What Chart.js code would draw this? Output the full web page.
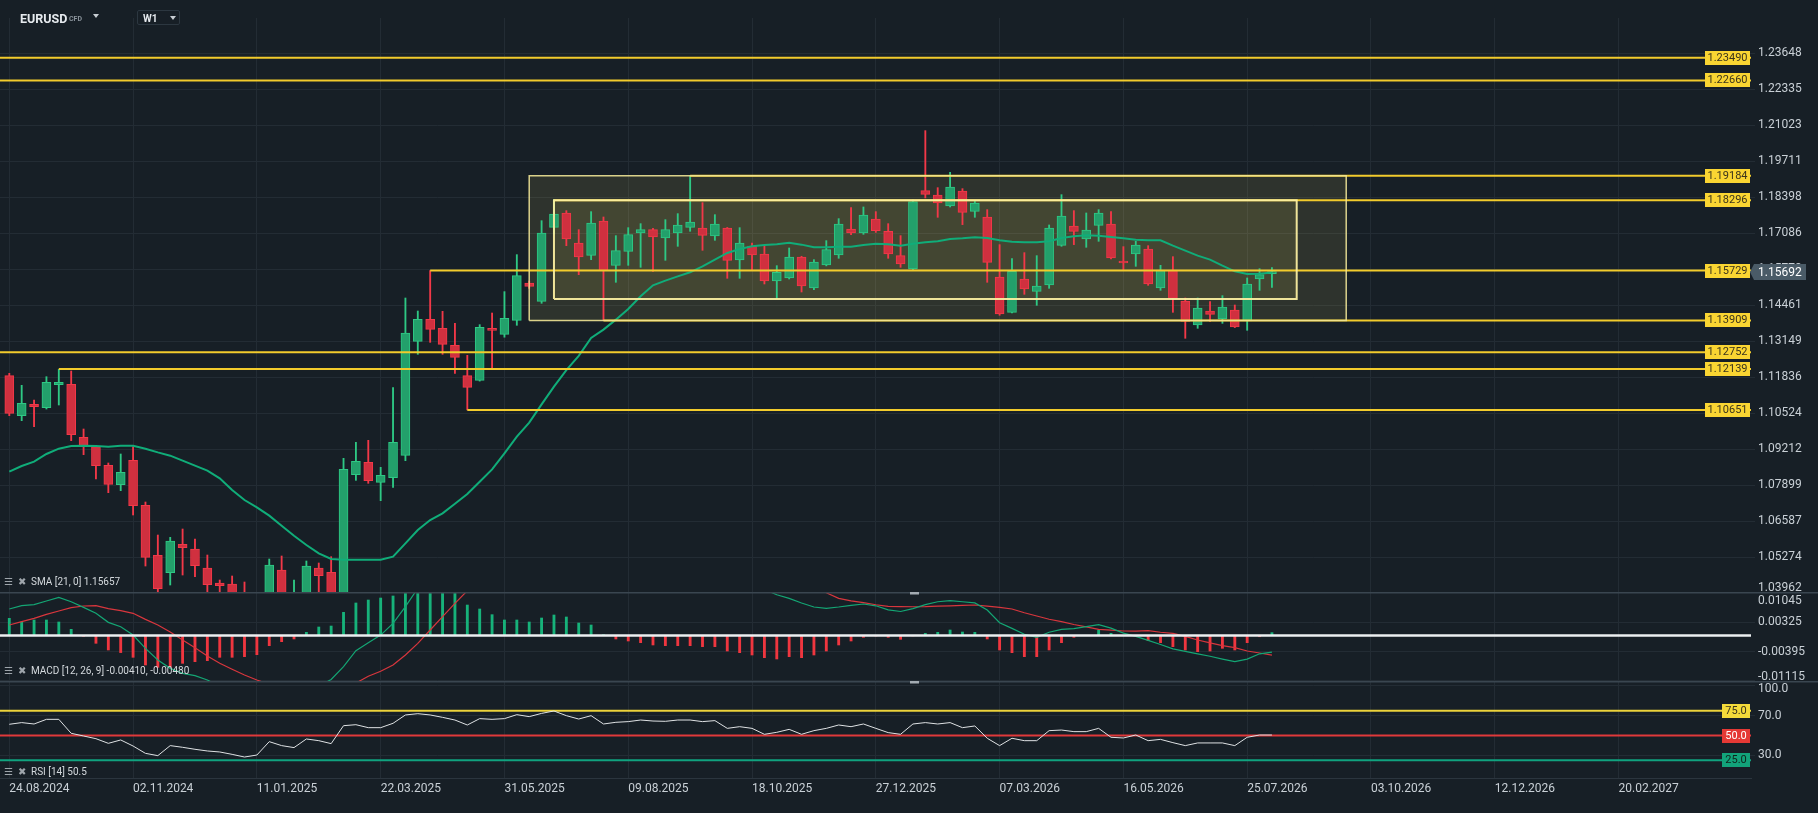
<!DOCTYPE html>
<html>
<head>
<meta charset="utf-8">
<script src="https://cdn.jsdelivr.net/npm/chart.js@4.4.1/dist/chart.umd.min.js"></script>
<style>
  html, body { margin: 0; padding: 0; background: #171f26; overflow: hidden; }
  #wrap { position: relative; width: 1818px; height: 813px; font-family: Roboto, sans-serif; }
  canvas { position: absolute; left: 0; }
  #hdr { position: absolute; left: 0; top: 0; width: 1818px; height: 18px; background: #171f26; }
  .sym { position: absolute; left: 20px; top: 11px; font: bold 12.5px/15px Roboto; color: #e6eaee; }
  .cfd { position: absolute; left: 69px; top: 15px; font: bold 7px/9px Roboto; color: #8b949c; }
  .caret { position: absolute; width: 0; height: 0; border-left: 3.5px solid transparent; border-right: 3.5px solid transparent; border-top: 4px solid #c8ced3; }
  .tf { position: absolute; left: 137px; top: 10px; width: 43px; height: 15px; border: 1px solid #2c3740; border-radius: 2px; box-sizing: border-box; }
  .tf span { position: absolute; left: 5px; top: 1px; font: bold 10px/13px Roboto; color: #e6eaee; }
  .leg { position: absolute; left: 31px; font: 10px/12px Roboto; color: #d4d9dd; white-space: nowrap; }
  .ico { position: absolute; font-family: "DejaVu Sans"; font-weight: bold; font-size: 10px; line-height: 12px; color: #9ea5ab; }
</style>
</head>
<body>
<div id="wrap">
  <canvas id="mainChart" width="1818" height="592" style="top:0px"></canvas>
  <canvas id="macdChart" width="1818" height="89" style="top:592px"></canvas>
  <canvas id="rsiChart" width="1818" height="132" style="top:681px"></canvas>
  <div id="hdr">
    <div class="sym">EURUSD</div>
    <div class="cfd">CFD</div>
    <div class="caret" style="left:93px; top:14px"></div>
  </div>
  <div class="tf"><span>W1</span><div class="caret" style="left:32px; top:5px"></div></div>
  <div class="ico" style="left:4px; top:576px">☰</div><div class="ico" style="left:18px; top:576px">✖</div>
  <div class="leg" style="top:576px">SMA [21, 0] 1.15657</div>
  <div class="ico" style="left:4px; top:665px">☰</div><div class="ico" style="left:18px; top:665px">✖</div>
  <div class="leg" style="top:665px">MACD [12, 26, 9] -0.00410, -0.00480</div>
  <div class="ico" style="left:4px; top:766px">☰</div><div class="ico" style="left:18px; top:766px">✖</div>
  <div class="leg" style="top:766px">RSI [14] 50.5</div>
</div>
<script>
// weekly candles, index 0 = week of 24.08.2024
var opens = [1.11898,1.10440,1.10853,1.10732,1.11570,1.11582,1.09650,1.09310,1.08630,1.07925,
  1.08812,1.07172,1.05349,1.04717,1.05750,1.05580,1.04887,1.04341,1.04304,1.03080,
  1.02440,1.02720,1.04815,1.02450,1.03290,1.04887,1.04729,1.03770,1.08289,1.08739,
  1.08010,1.08180,1.08994,1.13149,1.13951,1.13623,1.13004,1.11898,1.11728,1.13623,
  1.13405,1.13916,1.15277,1.14608,1.17306,1.17828,1.16734,1.16285,1.17536,1.15920,
  1.16431,1.17099,1.17221,1.16917,1.17099,1.17306,1.17281,1.16990,1.17281,1.16115,
  1.16625,1.16334,1.15349,1.15459,1.16224,1.15094,1.15933,1.16297,1.17245,1.17099,
  1.17609,1.17160,1.16273,1.15787,1.18642,1.18484,1.18083,1.18630,1.17889,1.17682,
  1.15495,1.14207,1.15422,1.14973,1.15204,1.16650,1.17354,1.16880,1.17379,1.17427,
  1.16079,1.16334,1.16516,1.15094,1.15750,1.14620,1.13746,1.14256,1.13964,1.14292,
  1.13891,1.15422,1.15617];
var highs = [1.11983,1.11546,1.11011,1.11861,1.12129,1.12068,1.09954,1.09346,1.08715,1.09043,
  1.09310,1.07293,1.06090,1.06005,1.06309,1.05944,1.05361,1.04450,1.04596,1.04377,
  1.03530,1.05215,1.05325,1.04450,1.05143,1.05070,1.05300,1.08885,1.09468,1.09541,
  1.08557,1.11461,1.14729,1.14255,1.15729,1.14243,1.13805,1.12639,1.13757,1.14182,
  1.14961,1.16309,1.15350,1.17548,1.18314,1.17913,1.17220,1.17877,1.17682,1.17002,
  1.17293,1.17439,1.17269,1.17585,1.17804,1.19184,1.18205,1.17767,1.17300,1.17293,
  1.16734,1.16637,1.15908,1.16552,1.16250,1.16127,1.16820,1.17622,1.18022,1.18047,
  1.17877,1.17439,1.17002,1.18314,1.20829,1.18751,1.19310,1.18715,1.18290,1.17950,
  1.16674,1.16164,1.16382,1.16273,1.17391,1.18496,1.17913,1.17828,1.17950,1.17877,
  1.16601,1.16795,1.16637,1.15920,1.16236,1.14730,1.14730,1.14596,1.14815,1.14474,
  1.15459,1.15799,1.15836];
var lows = [1.10440,1.10258,1.10039,1.10683,1.10829,1.09529,1.09019,1.08132,1.07633,1.07706,
  1.06820,1.04960,1.03330,1.04268,1.04632,1.04571,1.03430,1.03800,1.02260,1.02110,
  1.01780,1.02500,1.02100,1.01410,1.02850,1.04010,1.03600,1.03600,1.08083,1.07974,
  1.07342,1.07828,1.08800,1.12676,1.13113,1.12676,1.11983,1.10651,1.11700,1.12129,
  1.13300,1.13734,1.15080,1.14535,1.17063,1.16637,1.15580,1.16127,1.13909,1.15301,
  1.15920,1.15847,1.15702,1.16103,1.16613,1.17160,1.16467,1.16832,1.15447,1.15447,
  1.15763,1.15240,1.14705,1.15422,1.14948,1.15033,1.15900,1.16176,1.17038,1.17050,
  1.17120,1.16176,1.15847,1.15738,1.18375,1.17670,1.18047,1.17403,1.17670,1.15301,
  1.14100,1.14183,1.14863,1.14462,1.15082,1.16613,1.16674,1.16577,1.16795,1.16150,
  1.15763,1.15884,1.15191,1.15009,1.14207,1.13260,1.13624,1.13879,1.13806,1.13650,
  1.13551,1.15009,1.15119];
var closes = [1.10525,1.10889,1.10768,1.11655,1.11655,1.09747,1.09346,1.08618,1.07937,1.08374,
  1.07160,1.05276,1.04134,1.05871,1.05629,1.04972,1.04280,1.04244,1.03080,1.02440,
  1.02720,1.04997,1.02450,1.03290,1.04960,1.04608,1.03770,1.08484,1.08776,1.08071,
  1.08265,1.09468,1.13453,1.13951,1.13587,1.13040,1.12566,1.11473,1.13660,1.13550,
  1.13988,1.15544,1.15155,1.17099,1.17791,1.16880,1.16224,1.17464,1.15738,1.16455,
  1.17038,1.17221,1.16953,1.17221,1.17391,1.17500,1.17014,1.17427,1.16103,1.16734,
  1.16297,1.15349,1.15665,1.16224,1.15167,1.16042,1.16491,1.17427,1.17099,1.17755,
  1.17184,1.16334,1.15969,1.18241,1.18508,1.18193,1.18776,1.17852,1.18193,1.16030,
  1.14146,1.15702,1.15058,1.15167,1.17281,1.17719,1.17160,1.17208,1.17828,1.16188,
  1.16006,1.16662,1.15240,1.15750,1.14718,1.13879,1.14365,1.14134,1.14401,1.13673,
  1.15240,1.15580,1.15692];
var sma21 = [1.08399,1.08605,1.08763,1.09043,1.09237,1.09334,1.09346,1.09334,1.09310,1.09346,
  1.09346,1.09237,1.09103,1.08982,1.08800,1.08618,1.08436,1.08156,1.07731,1.07366,
  1.07099,1.06795,1.06431,1.06066,1.05726,1.05422,1.05215,1.05191,1.05191,1.05191,
  1.05191,1.05300,1.05786,1.06273,1.06637,1.06880,1.07232,1.07585,1.08034,1.08484,
  1.09067,1.09675,1.10185,1.10850,1.11500,1.12100,1.12620,1.13272,1.13576,1.13940,
  1.14329,1.14790,1.15191,1.15362,1.15519,1.15665,1.15884,1.16127,1.16370,1.16516,
  1.16613,1.16662,1.16686,1.16747,1.16674,1.16577,1.16577,1.16601,1.16601,1.16662,
  1.16710,1.16686,1.16637,1.16710,1.16759,1.16795,1.16880,1.16905,1.16941,1.16917,
  1.16832,1.16783,1.16759,1.16759,1.16795,1.16917,1.16977,1.17014,1.17002,1.16953,
  1.16905,1.16856,1.16832,1.16832,1.16637,1.16455,1.16273,1.16127,1.15908,1.15702,
  1.15605,1.15617,1.15657];
var macdLine = [0.00651,0.00733,0.00758,0.00848,0.00938,0.00831,0.00692,0.00545,0.00323,0.00217,
  0.00012,-0.00315,-0.00602,-0.00807,-0.00930,-0.00987,-0.01093,-0.0125,-0.0140,-0.0152,
  -0.0160,-0.0158,-0.0155,-0.0150,-0.0140,-0.0125,-0.0108,-0.00766,-0.00373,-0.00176,
  0.00010,0.00299,0.00708,0.0116,0.0154,0.0171,0.0189,0.0185,0.0190,0.0188,
  0.0184,0.0191,0.0192,0.0208,0.0221,0.0223,0.0212,0.0210,0.0187,0.0177,
  0.0173,0.0168,0.0162,0.0158,0.0156,0.0155,0.0152,0.0151,0.0139,0.0133,
  0.0125,0.0113,0.0100,0.00913,0.00800,0.00700,0.00667,0.00700,0.00740,0.00774,
  0.00730,0.00630,0.00590,0.00660,0.00760,0.00830,0.00856,0.00830,0.00800,0.00626,
  0.00315,0.00176,0.00030,-0.00045,0.00080,0.00151,0.00170,0.00220,0.00266,0.00180,
  0.00060,-0.00020,-0.00120,-0.00220,-0.00330,-0.00390,-0.00450,-0.00510,-0.00580,-0.00643,
  -0.00580,-0.00450,-0.00410];
var signalLine = [0.00258,0.00340,0.00422,0.00520,0.00602,0.00684,0.00725,0.00733,0.00659,0.00610,
  0.00545,0.00397,0.00258,0.00086,-0.00111,-0.00299,-0.00504,-0.00684,-0.00831,-0.00971,
  -0.01093,-0.0120,-0.0128,-0.0135,-0.0140,-0.0142,-0.0140,-0.0134,-0.0117,-0.0100,
  -0.0088,-0.00725,-0.00479,-0.00192,0.00135,0.00463,0.0079,0.0110,0.0125,0.0137,
  0.0146,0.0153,0.0159,0.0165,0.0171,0.0177,0.0181,0.0184,0.0185,0.0186,
  0.0186,0.0186,0.0185,0.0183,0.0181,0.0180,0.0179,0.0178,0.0177,0.0175,
  0.0173,0.0168,0.0158,0.0143,0.0129,0.0118,0.0105,0.00913,0.00850,0.00807,
  0.00755,0.00715,0.00708,0.00706,0.00708,0.00720,0.00730,0.00740,0.00749,0.00720,
  0.00692,0.00651,0.00560,0.00480,0.00400,0.00340,0.00270,0.00210,0.00151,0.00130,
  0.00111,0.00110,0.00119,0.00080,0.00050,-0.00020,-0.00111,-0.00180,-0.00250,-0.00300,
  -0.00381,-0.00430,-0.00480];
var macdHist = [0.00422,0.00332,0.00381,0.00381,0.00332,0.00152,-0.00020,-0.00192,-0.00356,-0.00420,
  -0.00536,-0.00725,-0.00782,-0.00782,-0.00684,-0.00643,-0.00618,-0.00536,-0.00536,-0.00520,
  -0.00471,-0.00250,-0.00152,-0.00086,0.00078,0.00209,0.00233,0.00569,0.00799,0.00872,
  0.00921,0.00971,0.01180,0.01350,0.01400,0.01250,0.01100,0.00749,0.00651,0.00512,
  0.00381,0.00381,0.00332,0.00430,0.00504,0.00455,0.00307,0.00258,0.00020,-0.00086,
  -0.00135,-0.00176,-0.00233,-0.00250,-0.00250,-0.00250,-0.00274,-0.00274,-0.00381,-0.00422,
  -0.00479,-0.00545,-0.00577,-0.00520,-0.00545,-0.00479,-0.00381,-0.00233,-0.00135,-0.00045,
  -0.00012,-0.00045,-0.00094,-0.00010,0.00053,0.00078,0.00135,0.00086,0.00078,-0.00086,
  -0.00356,-0.00422,-0.00520,-0.00520,-0.00356,-0.00176,-0.00045,0.00005,0.00135,0.00053,
  0.00002,-0.00010,-0.00127,-0.00176,-0.00274,-0.00356,-0.00397,-0.00381,-0.00315,-0.00356,
  -0.00176,-0.00030,0.00070];
var rsi14 = [61.3,63.0,61.6,66.3,66.3,52.2,49.5,46.8,42.1,45.5,
  39.4,32.0,29.7,39.8,38.1,36.1,34.4,33.4,31.0,28.3,
  30.3,43.8,39.8,37.8,46.5,44.8,41.8,59.9,60.9,57.9,
  57.9,62.3,70.7,72.0,70.7,68.3,65.6,60.6,67.0,66.3,
  67.0,71.0,69.0,72.3,74.7,70.0,66.6,70.0,61.6,63.3,
  64.0,65.6,64.6,64.3,65.6,65.6,64.0,65.0,57.2,58.9,
  57.2,51.2,53.2,56.2,51.2,54.9,57.2,60.6,58.9,61.6,
  57.2,52.9,51.2,61.6,63.0,61.6,63.0,57.9,59.6,47.2,
  39.8,47.2,44.8,44.8,54.9,55.5,53.9,53.9,57.2,48.2,
  47.5,50.5,44.8,46.1,42.8,39.8,42.5,42.5,42.5,39.8,
  48.2,50.5,50.5];

var xTickIdx = [0,10,20,30,40,50,60,70,80,90,100,110,120,130];
var xTickLabels = ['24.08.2024','02.11.2024','11.01.2025','22.03.2025','31.05.2025','09.08.2025','18.10.2025',
  '27.12.2025','07.03.2026','16.05.2026','25.07.2026','03.10.2026','12.12.2026','20.02.2027'];
var priceTicks = [1.23648,1.22335,1.21023,1.19711,1.18398,1.17086,1.15773,1.14461,1.13149,1.11836,
  1.10524,1.09212,1.07899,1.06587,1.05274,1.03962];
var macdTicks = [0.01045,0.00325,-0.00395,-0.01115];
var rsiTicks = [100,70,30];

// horizontal levels and where they start (candle index, null = left edge)
var levels = [1.23490,1.22660,1.19184,1.18296,1.15729,1.13909,1.12752,1.12139,1.10651];
var levelStart = [null,null,55,44,34,48,null,4,37];
// zones: [from index, to index, low, high]
var zones = [[42,108,1.13909,1.19184],[44,104,1.14693,1.18296]];
var rsiLevels = [75,50,25];
var lastPrice = 1.15692;

var xMin = -0.751, xMax = 140.7;
var gridCol = '#232c34', txtCol = '#c9d0d6';
var upFill = '#23a06b', upLine = '#2ec884', dnFill = '#d0303f', dnLine = '#f23848';
var lvlCol = '#f2cb2c', tagCol = '#fad532';
var font12 = { family: 'Roboto', size: 12 };

function noPad(s) { s.paddingTop = 0; s.paddingBottom = 0; s.paddingLeft = 0; s.paddingRight = 0; }

function xAxis(showLabels) {
  return {
    type: 'linear', min: xMin, max: xMax, offset: false, bounds: 'data',
    afterBuildTicks: function (s) { s.ticks = xTickIdx.map(function (v) { return { value: v }; }); },
    afterFit: function (s) { s.height = showLabels ? 35 : 0; noPad(s); },
    grid: { color: gridCol, drawTicks: false, offset: false },
    border: { display: showLabels, color: '#2b353e' },
    ticks: {
      display: showLabels, align: 'start', padding: 4, color: txtCol, font: font12,
      maxRotation: 0, autoSkip: false,
      callback: function (v, i) { return xTickLabels[i]; }
    }
  };
}
function yAxis(min, max, tickVals, digits) {
  return {
    position: 'right', min: min, max: max, bounds: 'data',
    afterBuildTicks: function (s) { s.ticks = tickVals.map(function (v) { return { value: v }; }); },
    afterFit: function (s) { s.width = 67; noPad(s); },
    grid: { color: gridCol, tickLength: 4 },
    border: { display: false },
    ticks: { color: txtCol, padding: 3, font: font12, autoSkip: false,
      callback: function (v) { return v.toFixed(digits); } }
  };
}

// keeps the edge tick labels inside their pane
var clampLabels = {
  id: 'clampLabels',
  beforeDraw: function (chart, args, opts) {
    var s = chart.scales.y;
    s.getLabelItems(chart.chartArea).forEach(function (it) {
      var t = it.options.translation;
      t[1] = Math.min(Math.max(t[1], s.top + opts.top), s.bottom - opts.bottom);
    });
  }
};

var paneLine = {
  id: 'paneLine',
  afterDraw: function (chart) {
    var ctx = chart.ctx;
    ctx.save();
    ctx.strokeStyle = '#3a4650';
    ctx.lineWidth = 1.5;
    ctx.beginPath(); ctx.moveTo(0, 0.75); ctx.lineTo(chart.width, 0.75); ctx.stroke();
    ctx.fillStyle = '#a3abb2';
    ctx.fillRect(910, 0, 9, 2.5);
    ctx.restore();
  }
};

function tag(ctx, text, xr, y, w, fill, color) {
  ctx.fillStyle = fill;
  ctx.fillRect(xr - w, Math.round(y) - 7, w, 14);
  ctx.fillStyle = color;
  ctx.font = '11px Roboto';
  ctx.textAlign = 'center';
  ctx.textBaseline = 'middle';
  ctx.fillText(text, xr - w / 2, Math.round(y) + 0.5);
}

var levelTags = {
  id: 'levelTags',
  afterDatasetsDraw: function (chart) {
    var ctx = chart.ctx, y = chart.scales.y, r = chart.chartArea.right - 1;
    ctx.save();
    levels.forEach(function (v) { tag(ctx, v.toFixed(5), r, y.getPixelForValue(v), 45, tagCol, '#3b341c'); });
    ctx.restore();
  },
  afterDraw: function (chart) {
    var ctx = chart.ctx, r = chart.chartArea.right;
    var py = Math.round(chart.scales.y.getPixelForValue(lastPrice));
    ctx.save();
    ctx.fillStyle = '#4a5b67';
    ctx.beginPath();
    ctx.moveTo(r - 1, py); ctx.lineTo(r + 3, py - 8); ctx.lineTo(1806, py - 8);
    ctx.lineTo(1806, py + 8); ctx.lineTo(r + 3, py + 8); ctx.closePath(); ctx.fill();
    ctx.fillStyle = '#ffffff';
    ctx.font = '12px Roboto';
    ctx.textAlign = 'left'; ctx.textBaseline = 'middle';
    ctx.fillText(lastPrice.toFixed(5), 1758, py + 0.5);
    ctx.restore();
  }
};

var rsiTags = {
  id: 'rsiTags',
  afterDatasetsDraw: function (chart) {
    var ctx = chart.ctx, y = chart.scales.y, r = chart.chartArea.right - 1;
    var fills = ['#f4da3a', '#e53935', '#12a37a'], inks = ['#3b341c', '#ffffff', '#10241c'];
    ctx.save();
    rsiLevels.forEach(function (v, k) { tag(ctx, v.toFixed(1), r, y.getPixelForValue(v), 28, fills[k], inks[k]); });
    ctx.restore();
  }
};

function seg(x0, x1, v) { return [{ x: x0, y: v }, { x: x1, y: v }]; }
function series(arr) { return arr.map(function (v, i) { return { x: i, y: v }; }); }
var baseOpts = {
  responsive: false, animation: false, events: [],
  layout: { padding: 0 },
  plugins: { legend: { display: false }, tooltip: { enabled: false } }
};
function opts(extra) { return Object.assign({}, baseOpts, extra); }

// ---------- price pane ----------
var mainSets = [];
zones.forEach(function (z) {
  mainSets.push({ type: 'line', data: seg(z[0], z[1], z[3]), borderWidth: 0, pointRadius: 0,
    fill: '+1', backgroundColor: 'rgba(255,232,110,0.10)', order: 20 });
  mainSets.push({ type: 'line', data: seg(z[0], z[1], z[2]), borderWidth: 0, pointRadius: 0,
    fill: false, order: 20 });
});
zones.forEach(function (z, k) {
  mainSets.push({ type: 'line', order: 4,
    data: [{ x: z[0], y: z[2] }, { x: z[0], y: z[3] }, { x: z[1], y: z[3] }, { x: z[1], y: z[2] }, { x: z[0], y: z[2] }],
    borderColor: k === 0 ? 'rgba(240,228,150,0.9)' : 'rgba(250,238,160,0.95)',
    borderWidth: k === 0 ? 1.5 : 2, pointRadius: 0, fill: false });
});
mainSets.push({
  type: 'bar', order: 12, grouped: false, clip: 0, barThickness: 1.2,
  data: highs.map(function (h, i) { return { x: i, y: [lows[i], h] }; }),
  backgroundColor: closes.map(function (c, i) { return c >= opens[i] ? upLine : dnLine; })
});
mainSets.push({
  type: 'bar', order: 11, grouped: false, clip: 0, barThickness: 9, minBarLength: 1,
  borderWidth: 1, borderSkipped: false,
  data: opens.map(function (o, i) { return { x: i, y: [o, closes[i]] }; }),
  backgroundColor: closes.map(function (c, i) { return c >= opens[i] ? upFill : dnFill; }),
  borderColor: closes.map(function (c, i) { return c >= opens[i] ? upLine : dnLine; })
});
mainSets.push({ type: 'line', order: 9, data: series(sma21), borderColor: '#10ad79',
  borderWidth: 2, pointRadius: 0, tension: 0 });
levels.forEach(function (v, k) {
  mainSets.push({ type: 'line', order: 5, data: seg(levelStart[k] === null ? xMin : levelStart[k], xMax, v),
    borderColor: lvlCol, borderWidth: 2, pointRadius: 0 });
});

new Chart(document.getElementById('mainChart'), {
  type: 'line',
  data: { datasets: mainSets },
  options: opts({
    plugins: Object.assign({}, baseOpts.plugins, { clampLabels: { top: 7, bottom: 4.3 } }),
    scales: { x: xAxis(false), y: yAxis(1.04013, 1.25591, priceTicks, 5) }
  }),
  plugins: [clampLabels, levelTags]
});

// ---------- MACD pane ----------
new Chart(document.getElementById('macdChart'), {
  type: 'line',
  data: { datasets: [
    { type: 'line', order: 1, data: seg(xMin, xMax, 0), borderColor: '#eceff1', borderWidth: 2.5, pointRadius: 0 },
    { type: 'line', order: 3, data: series(macdLine), borderColor: '#14a674', borderWidth: 1.2, pointRadius: 0 },
    { type: 'line', order: 3, data: series(signalLine), borderColor: '#d8363d', borderWidth: 1.2, pointRadius: 0 },
    { type: 'bar', order: 5, grouped: false, clip: 0, barThickness: 2.2,
      data: series(macdHist),
      backgroundColor: macdHist.map(function (v) { return v >= 0 ? '#17b27a' : '#ef363f'; }) }
  ] },
  options: opts({
    plugins: Object.assign({}, baseOpts.plugins, { clampLabels: { top: 8.7, bottom: 4.3 } }),
    scales: { x: xAxis(false), y: yAxis(-0.01118, 0.01069, macdTicks, 5) }
  }),
  plugins: [clampLabels, paneLine]
});

// ---------- RSI pane ----------
var rsiCols = ['#ecd33b', '#e0393a', '#10a37f'];
var rsiSets = rsiLevels.map(function (v, k) {
  return { type: 'line', order: 3, data: seg(xMin, xMax, v), borderColor: rsiCols[k], borderWidth: 2, pointRadius: 0 };
});
rsiSets.push({ type: 'line', order: 1, data: series(rsi14), borderColor: '#dfe2e4', borderWidth: 1, pointRadius: 0 });

new Chart(document.getElementById('rsiChart'), {
  type: 'line',
  data: { datasets: rsiSets },
  options: opts({
    plugins: Object.assign({}, baseOpts.plugins, { clampLabels: { top: 8, bottom: 5 } }),
    scales: { x: xAxis(true), y: yAxis(7.16, 104.94, rsiTicks, 1) }
  }),
  plugins: [clampLabels, paneLine, rsiTags]
});
</script>
</body>
</html>
